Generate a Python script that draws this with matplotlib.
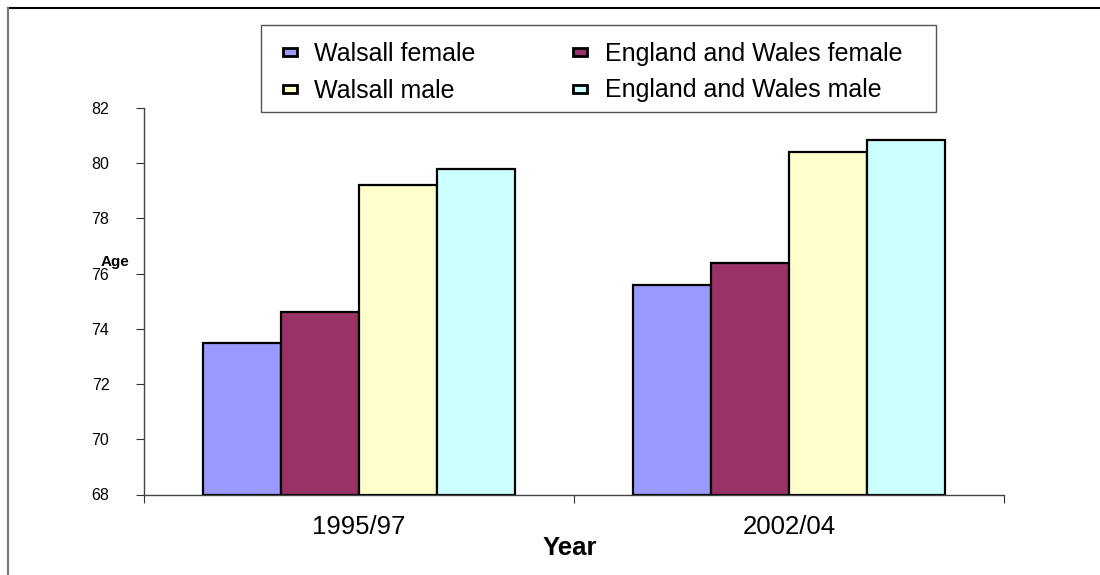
import matplotlib
matplotlib.use("Agg")
import matplotlib.pyplot as plt
import numpy as np
from matplotlib.lines import Line2D
from matplotlib.patches import Rectangle
from matplotlib.legend_handler import HandlerPatch

plt.rcParams['font.family'] = ['Liberation Sans', 'DejaVu Sans']

# Life expectancy by period
periods = ['1995/97', '2002/04']
series_names = ['Walsall female', 'England and Wales female',
                'Walsall male', 'England and Wales male']
walsall_female = [73.5, 75.6]
england_female = [74.6, 76.4]
walsall_male = [79.2, 80.4]
england_male = [79.8, 80.85]
colours = ['#9999FF', '#993366', '#FFFFCC', '#CCFFFF']

y_ticks = [68, 70, 72, 74, 76, 78, 80, 82]

fig = plt.figure(figsize=(11, 5.75), dpi=100)
ax = fig.add_axes([0.1309, 0.14, 0.7818, 0.6722])

# Excel style clustered bars, gap width 150%
n = 4
w = 1 / (n + 1.5)
x = np.arange(len(periods))
values = [walsall_female, england_female, walsall_male, england_male]
bars = []
for i, (vals, c) in enumerate(zip(values, colours)):
    offs = (i - (n - 1) / 2) * w
    b = ax.bar(x + offs, np.array(vals) - 68, w, bottom=68, color=c,
               edgecolor='black', linewidth=1.6, label=series_names[i])
    bars.append(b)

ax.set_xlim(-0.5, 1.5)
ax.set_ylim(68, 82)
ax.set_yticks(y_ticks)
ax.tick_params(axis='y', direction='out', length=6, width=0.8,
               labelsize=11.5, pad=19, colors='#333333', labelcolor='black')

ax.set_xticks(x)
ax.set_xticklabels(periods, fontsize=18.5)
ax.tick_params(axis='x', which='major', length=0, pad=15)
ax.set_xticks([-0.5, 0.5, 1.5], minor=True)
ax.tick_params(axis='x', which='minor', direction='out', length=6,
               width=0.8, colors='#333333')

for s in ['top', 'right']:
    ax.spines[s].set_visible(False)
for s in ['left', 'bottom']:
    ax.spines[s].set_color('#444444')
    ax.spines[s].set_linewidth(1.0)

fig.text(0.518, 1 - 548 / 575, 'Year', fontsize=18.5, fontweight='bold',
         ha='center', va='center')
fig.text(0.1045, 1 - 262 / 575, 'Age', fontsize=11, fontweight='bold',
         ha='center', va='center')


# small flat swatches for the legend
def small_box(legend, orig_handle, xdescent, ydescent, width, height, fontsize):
    bh = 6.0
    return Rectangle((-xdescent, -ydescent + (height - bh) / 2), width, bh)


# legend: two columns, row by row; its box is drawn separately
order = [0, 2, 1, 3]
leg = fig.legend([bars[i][0] for i in order], [series_names[i] for i in order],
                 ncol=2, loc='upper left',
                 bbox_to_anchor=(283 / 1100, 1 - 42 / 575),
                 fontsize=18, frameon=False,
                 handlelength=0.56, handletextpad=0.7,
                 columnspacing=3.9, labelspacing=0.5, borderpad=0,
                 borderaxespad=0,
                 handler_map={Rectangle: HandlerPatch(patch_func=small_box)})
for h in leg.legend_handles:
    h.set_linewidth(2.0)
    h.set_edgecolor('black')

fig.add_artist(Rectangle((261 / 1100, 1 - 112 / 575), 675 / 1100, 87 / 575,
                         transform=fig.transFigure, fill=False,
                         edgecolor='#555555', lw=1.0))

# outer frame of the chart area
fig.add_artist(Line2D([8 / 1100, 1.0], [1 - 8 / 575, 1 - 8 / 575],
                      transform=fig.transFigure, color='black', lw=1.5))
fig.add_artist(Line2D([8 / 1100, 8 / 1100], [0.0, 1 - 8 / 575],
                      transform=fig.transFigure, color='#777777', lw=1.5))

fig.savefig('out.png', dpi=100, facecolor='white')
